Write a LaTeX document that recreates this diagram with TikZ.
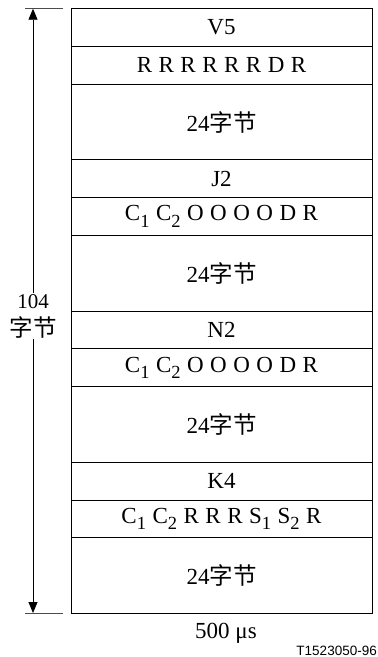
\documentclass[tikz,border=0pt]{standalone}
\usepackage{fontspec}
\setmainfont{Liberation Serif}
\newfontfamily\cjk{Noto Sans CJK SC}
\newfontfamily\figsans{Liberation Sans}
\usetikzlibrary{arrows.meta,positioning}
\newcommand\sbs[1]{\raisebox{-6.5pt}{\fontsize{18.5}{18}\selectfont#1}}
\newcommand\zj{{\cjk\fontsize{23.5}{28}\selectfont 字节}}
\newcommand\widesp{\spaceskip=6.5pt\relax}

\begin{document}
\begin{tikzpicture}[x=1pt,y=-1pt,node distance=0pt,
row/.style={draw,line width=1pt,minimum width=301pt,minimum height=37.8pt,inner sep=0pt,outer sep=0pt,
  font=\fontsize{23}{28}\selectfont,execute at begin node=\widesp},
big/.style={row,minimum height=75.6pt},
arr/.style={-{Triangle[length=11pt,width=9pt]},line width=0.8pt},
tick/.style={line width=0.8pt,draw=black!70}]
\useasboundingbox (0,0) rectangle (378,657);
% frame rows
\node[row,anchor=north] (v5) at (221.5,8.7) {V5};
\node[row,below=of v5] (vbits) {R R R R R R D R};
\node[big,below=of vbits] (vdata) {24\zj};
\node[row,below=of vdata] (j2) {J2};
\node[row,below=of j2] (jbits) {C\sbs{1} C\sbs{2} O O O O D R};
\node[big,below=of jbits] (jdata) {24\zj};
\node[row,below=of jdata] (n2) {N2};
\node[row,below=of n2] (nbits) {C\sbs{1} C\sbs{2} O O O O D R};
\node[big,below=of nbits] (ndata) {24\zj};
\node[row,below=of ndata] (k4) {K4};
\node[row,below=of k4] (kbits) {C\sbs{1} C\sbs{2} R R R S\sbs{1} S\sbs{2} R};
\node[big,below=of kbits] (kdata) {24\zj};
% length marker
\coordinate (top) at (33,8.7);
\coordinate (bot) at (33,613);
\draw[tick] ([xshift=-8pt]v5.north west) -- ++(-38,0);
\draw[tick] ([xshift=-8pt]kdata.south west) -- ++(-38,0);
\node[font=\fontsize{21}{28}\selectfont,align=center,inner sep=1pt] (len) at (33,316) {104\\\zj};
\draw[arr] (len.north) -- (top);
\draw[arr] (len.south) -- (bot);
% captions
\node[font=\fontsize{23}{28}\selectfont] (time) at (226,633) {500 μs};
\node[font=\figsans\fontsize{13.5}{16}\selectfont,anchor=east,inner sep=0pt] (tag) at (377,651) {T1523050-96};
\end{tikzpicture}
\end{document}
